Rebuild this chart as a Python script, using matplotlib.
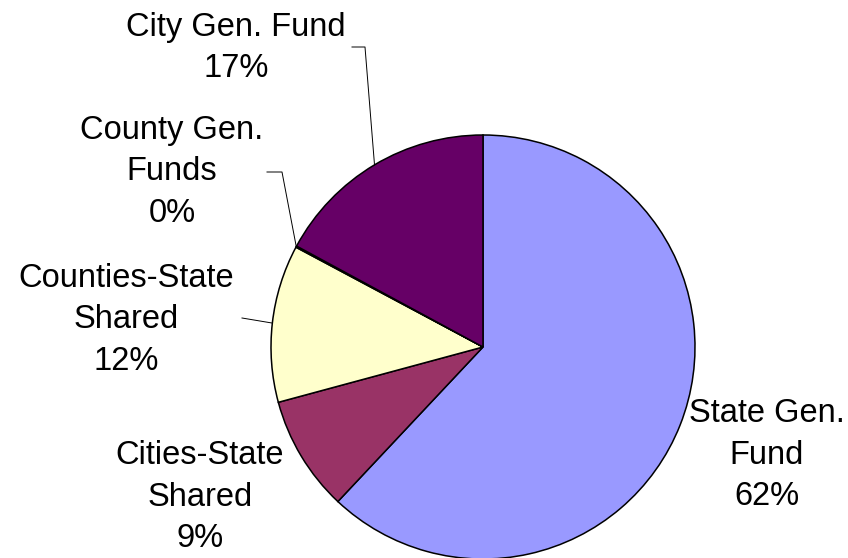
import matplotlib.pyplot as plt
import numpy as np

# Funding sources, clockwise from 12 o'clock
labels = ["State Gen.\nFund", "Cities-State\nShared", "Counties-State\nShared",
          "County Gen.\nFunds", "City Gen. Fund"]
shares = [62.0, 8.8, 12.0, 0.1, 17.1]
pct_text = ["62%", "9%", "12%", "0%", "17%"]
colors = ["#9999FF", "#993366", "#FFFFCC", "#FFFFCC", "#660066"]

W, H = 848, 558
fig = plt.figure(figsize=(W / 100, H / 100), dpi=100)
ax = fig.add_axes([0, 0, 1, 1])

cx, cy, r = 483, H - 347, 212
wedges, _ = ax.pie(shares, colors=colors, startangle=90, counterclock=False,
                   center=(cx, cy), radius=r, frame=True,
                   wedgeprops=dict(edgecolor="black", linewidth=1.1))
ax.set_xlim(0, W)
ax.set_ylim(0, H)
ax.set_aspect("equal")
ax.axis("off")

# label placement (text centre) and leader line (end near text, elbow)
label_pos = [(767, H - 455), (200, H - 497), (126, H - 320), (172, H - 172), (236, H - 48)]
leaders = [None, None, [(242, H - 318)], [(267, H - 172), (282, H - 172)],
           [(352, H - 47), (365, H - 47)]]

for w, lab, pct, pos, ld in zip(wedges, labels, pct_text, label_pos, leaders):
    ax.text(pos[0], pos[1], lab + "\n" + pct, ha="center", va="center",
            fontsize=23.5, family="Liberation Sans", linespacing=1.42)
    if ld is not None:
        mid = np.deg2rad((w.theta1 + w.theta2) / 2)
        edge = (cx + r * np.cos(mid), cy + r * np.sin(mid))
        pts = ld + [edge]
        ax.plot([p[0] for p in pts], [p[1] for p in pts], color="black", linewidth=0.7)

fig.savefig("out.png", dpi=100)
